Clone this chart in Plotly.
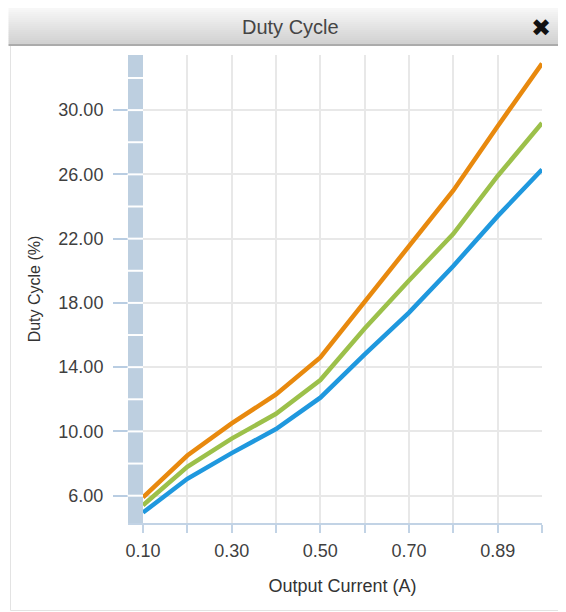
import plotly.graph_objects as go

# ---- data ----
output_current = [0.1, 0.2, 0.3, 0.4, 0.5, 0.6, 0.7, 0.8, 0.9, 1.0]
duty_orange = [5.9, 8.5, 10.5, 12.3, 14.6, 18.1, 21.6, 25.0, 29.0, 32.9]
duty_green = [5.4, 7.8, 9.55, 11.1, 13.2, 16.4, 19.4, 22.3, 25.9, 29.2]
duty_blue = [4.95, 7.05, 8.65, 10.15, 12.1, 14.8, 17.4, 20.3, 23.4, 26.3]

x_tick_vals = [0.1, 0.2, 0.3, 0.4, 0.5, 0.6, 0.7, 0.8, 0.9, 1.0]
x_tick_text = ["0.10", "", "0.30", "", "0.50", "", "0.70", "", "0.89", ""]
y_tick_vals = [6, 10, 14, 18, 22, 26, 30]
y_tick_text = ["6.00", "10.00", "14.00", "18.00", "22.00", "26.00", "30.00"]
band_marks = [6, 8, 10, 12, 14, 16, 18, 20, 22, 24, 26, 28, 30, 32]

# ---- geometry (page body margin of 8px is accounted for) ----
OFF = 8
W, H = 558, 604
L, R, T, B = 135, 24, 47, 89
PW = W - L - R
PH = H - T - B


def px(x):  # page pixel -> paper
    return (x - OFF - L) / PW


def py(y):  # page pixel -> paper
    return 1 - (y - OFF - T) / PH


FONT = "Liberation Sans, Arial, sans-serif"
TXT = "#3f3f3f"

fig = go.Figure()
for name, vals, color in [
    ("Series 3", duty_blue, "#1f98de"),
    ("Series 2", duty_green, "#9cc04a"),
    ("Series 1", duty_orange, "#e8890e"),
]:
    fig.add_trace(go.Scatter(
        x=output_current, y=vals, mode="lines", name=name,
        line=dict(color=color, width=4.5), showlegend=False,
    ))

shapes = []
# panel border
shapes.append(dict(type="rect", xref="paper", yref="paper",
                   x0=px(10.5), x1=px(700), y0=py(610.5), y1=py(45),
                   line=dict(color="#e3e3e3", width=1), fillcolor="rgba(0,0,0,0)",
                   layer="below"))
# title bar gradient
N = 18
top, bot = 8.0, 44.0
c0, c1 = 248, 208
for i in range(N):
    ya = top + (bot - top) * i / N
    yb = top + (bot - top) * (i + 1) / N
    c = round(c0 + (c1 - c0) * (i + 0.5) / N)
    shapes.append(dict(type="rect", xref="paper", yref="paper",
                       x0=px(8.5), x1=px(700), y0=py(yb + 0.3), y1=py(ya),
                       line=dict(width=0), fillcolor=f"rgb({c},{c},{c})",
                       layer="below"))
shapes.append(dict(type="rect", xref="paper", yref="paper",
                   x0=px(8.5), x1=px(700), y0=py(46), y1=py(44),
                   line=dict(width=0), fillcolor="#ababab", layer="below"))
# separators on the y band
for v in band_marks:
    shapes.append(dict(type="line", xref="paper", yref="y",
                       x0=px(127.5), x1=px(143), y0=v, y1=v,
                       line=dict(color="white", width=2), layer="above"))

fig.update_layout(
    width=W, height=H,
    margin=dict(l=L, r=R, t=T, b=B, autoexpand=False),
    paper_bgcolor="white", plot_bgcolor="white",
    shapes=shapes,
    annotations=[
        dict(text="Duty Cycle", xref="paper", yref="paper", x=px(290.5), y=py(27.5),
             showarrow=False, xanchor="center", yanchor="middle",
             font=dict(family=FONT, size=20, color="#454545")),
        dict(text="✖", xref="paper", yref="paper", x=px(541), y=py(28),
             showarrow=False, xanchor="center", yanchor="middle",
             font=dict(family="DejaVu Sans", size=24, color="#111111")),
    ],
    xaxis=dict(
        range=[0.1, 1.0], tickvals=x_tick_vals, ticktext=x_tick_text,
        showline=True, linewidth=1.5, linecolor="#c2d3e5",
        ticks="outside", ticklen=8, tickwidth=1.5, tickcolor="#c2d3e5",
        showgrid=True, gridcolor="#e8e8e8", gridwidth=1.5, zeroline=False,
        tickfont=dict(family=FONT, size=18, color=TXT),
        ticklabelstandoff=3,
        title=dict(text="Output Current (A)", standoff=19,
                   font=dict(family=FONT, size=18, color="#333333")),
        fixedrange=True,
    ),
    yaxis=dict(
        range=[4.3, 33.43], tickvals=y_tick_vals, ticktext=y_tick_text,
        showline=True, linewidth=15, linecolor="#bdcfe0",
        ticks="outside", ticklen=15, tickwidth=1.5, tickcolor="#b9cde2",
        showgrid=True, gridcolor="#e8e8e8", gridwidth=1.5, zeroline=False,
        tickfont=dict(family=FONT, size=18, color=TXT),
        ticklabelstandoff=6,
        title=dict(text="Duty Cycle (%)", standoff=20,
                   font=dict(family=FONT, size=16, color="#333333")),
        fixedrange=True,
    ),
)

fig.write_html("out.html")
